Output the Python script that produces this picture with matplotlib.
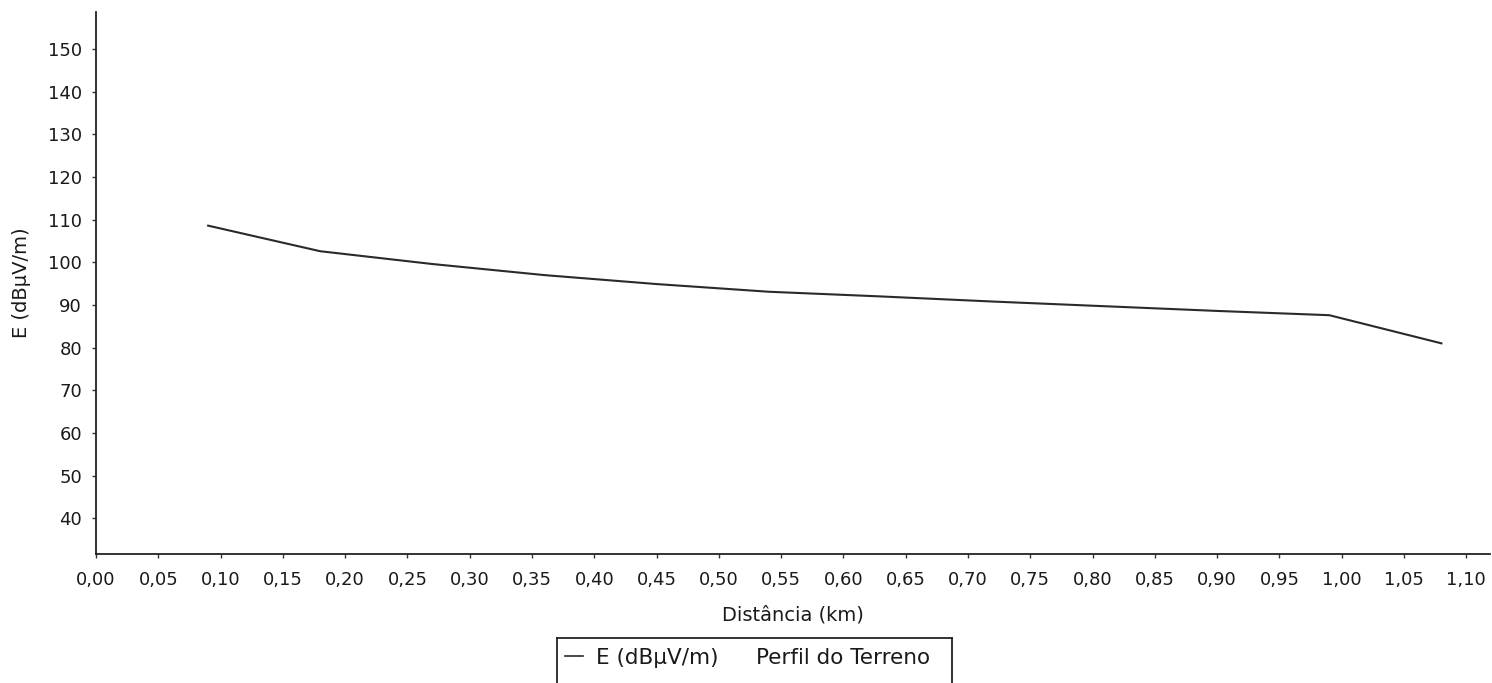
import matplotlib
matplotlib.use("Agg")
import matplotlib.pyplot as plt
from matplotlib.lines import Line2D

plt.rcParams['font.family'] = ['DejaVu Sans']

# Data
distance_km = [0.09, 0.18, 0.27, 0.36, 0.45, 0.54, 0.63, 0.72, 0.81, 0.90, 0.99, 1.08]
field_dbuv = [108.6, 102.6, 99.6, 97.0, 94.9, 93.1, 92.0, 90.8, 89.7, 88.6, 87.6, 81.0]
x_ticks = [round(0.05 * i, 2) for i in range(23)]
x_tick_labels = [f"{v:.2f}".replace('.', ',') for v in x_ticks]
y_ticks = [40, 50, 60, 70, 80, 90, 100, 110, 120, 130, 140, 150]

W, H = 1492, 683
fig = plt.figure(figsize=(W / 100, H / 100), dpi=100)
ax = fig.add_axes([96 / W, 1 - 554 / H, (1490 - 96) / W, (554 - 12) / H])

line_color = '#2a2a2a'
ax.plot(distance_km, field_dbuv, color=line_color, lw=1.5, label='E (dBμV/m)')

ax.set_xlim(0, 1.119)
ax.set_ylim(31.6, 158.7)
ax.set_xticks(x_ticks)
ax.set_xticklabels(x_tick_labels)
ax.set_yticks(y_ticks)

for s in ['top', 'right']:
    ax.spines[s].set_visible(False)
for s in ['left', 'bottom']:
    ax.spines[s].set_color('#222222')
    ax.spines[s].set_linewidth(1.3)

ax.tick_params(axis='both', direction='out', length=3, width=1, color='#333333',
               labelsize=13, labelcolor='#1a1a1a')
ax.tick_params(axis='x', pad=9)
ax.tick_params(axis='y', pad=7)

ax.set_xlabel('Distância (km)', fontsize=14, color='#1a1a1a', labelpad=12)
ax.set_ylabel('E (dBμV/m)', fontsize=14, color='#1a1a1a', labelpad=12)

handles = [Line2D([], [], color=line_color, lw=1.2),
           Line2D([], [], color='none')]
labels = ['E (dBμV/m)', 'Perfil do Terreno']
leg = fig.legend(handles, labels, loc='center left',
                 bbox_to_anchor=(565 / W, 1 - 658 / H), ncol=2, frameon=False,
                 fontsize=15.5, handlelength=0.85, handletextpad=0.6,
                 columnspacing=0.3, borderpad=0.0, borderaxespad=0.0)
for t in leg.get_texts():
    t.set_color('#1a1a1a')

# legend box (bottom edge is cut off by the figure edge)
bx0, bx1, by0 = 557 / W, 952 / W, 1 - 638 / H
for xs, ys in [([bx0, bx0], [by0, -0.01]), ([bx0, bx1], [by0, by0]), ([bx1, bx1], [by0, -0.01])]:
    fig.add_artist(Line2D(xs, ys, transform=fig.transFigure, color='#222222', lw=1.3))

fig.savefig('out.png', dpi=100, facecolor='white')
